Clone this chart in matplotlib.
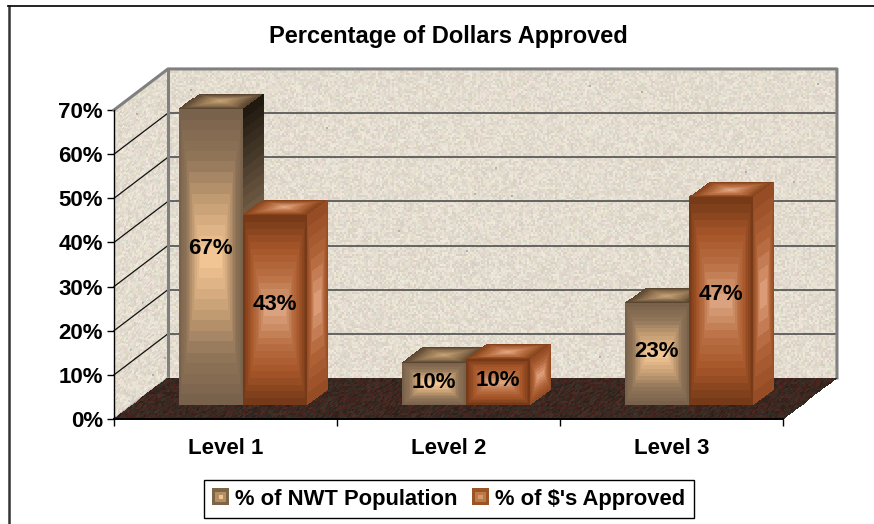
import numpy as np
import matplotlib
matplotlib.use('Agg')
import matplotlib.pyplot as plt
from matplotlib.legend_handler import HandlerBase
from matplotlib.patches import Rectangle, Patch

plt.rcParams['font.family'] = ['Liberation Sans', 'DejaVu Sans']
plt.rcParams['font.weight'] = 'bold'

#------------------------------------------------
# values
#------------------------------------------------
title      = 'Percentage of Dollars Approved'
categories = ['Level 1', 'Level 2', 'Level 3']
pop_vals   = [67, 9.5, 23]
appr_vals  = [43, 10.3, 47]
pop_name   = '% of NWT Population'
appr_name  = "% of $'s Approved"
yticks     = [0, 10, 20, 30, 40, 50, 60, 70]

# depth of the chart box and of the bars, in data units
box_dx, box_dy   = 0.242, 9.3
base_dx, base_dy = 0.078, 3.2
bar_dx, bar_dy   = 0.094, 3.5
bar_w            = 0.287

W, H = 874., 524.
fig = plt.figure(figsize=(8.74, 5.24), dpi=100, facecolor='white')
ax  = fig.add_axes([114/W, 1-419/H, (783-114)/W, (419-110)/H])
ax.set_xlim(0, 3)
ax.set_ylim(0, 70)
ax.patch.set_alpha(0)
ax.autoscale(False)


def noise(ny, nx, seed):
    # cheap stone grain, only a texture and not chart data
    jj, ii = np.mgrid[0:ny, 0:nx]
    v = np.sin(ii*12.9898 + jj*78.233 + seed*37.719)*43758.5453
    return v - np.floor(v)


def face(p0, pu, pv, rgb, z=2):
    # paint an rgb array on the parallelogram p0, p0+pu, p0+pv
    ny, nx = rgb.shape[:2]
    u, v = np.meshgrid(np.linspace(0, 1, nx+1), np.linspace(0, 1, ny+1))
    X = p0[0] + u*pu[0] + v*pv[0]
    Y = p0[1] + u*pu[1] + v*pv[1]
    ax.pcolormesh(X, Y, rgb/255., shading='flat', clip_on=False, zorder=z,
                  antialiased=False, edgecolors='none')


def stone(ny, nx):
    n0, n1, n2, n3 = noise(ny, nx, 7), noise(ny, nx, 1), noise(ny, nx, 2), noise(ny, nx, 3)
    rgb = np.zeros((ny, nx, 3))
    rgb[..., 0] = 210 + 24*n0 + 10*n1
    rgb[..., 1] = 203 + 24*n0 + 10*n2
    rgb[..., 2] = 190 + 24*n0 + 10*n3
    rgb[noise(ny, nx, 4) > 0.9993] = (178, 176, 160)
    return rgb


def soil(ny, nx):
    n1, n2 = noise(ny, nx, 5), noise(ny, nx, 6)
    rgb = np.zeros((ny, nx, 3))
    rgb[..., 0] = 42 + 36*n1
    rgb[..., 1] = 30 + 20*n2
    rgb[..., 2] = 24 + 18*n2
    return rgb


def box_shade(ny, nx, stops, levels=14, k=1.4):
    # stepped gradient, dark at the edges and light in the centre
    u, v = np.meshgrid((np.arange(nx)+0.5)/nx, (np.arange(ny)+0.5)/ny)
    t = np.minimum(k*(1-np.abs(2*u-1)), 1-np.abs(2*v-1))
    t = np.floor(np.clip(t, 0, 1)*levels)/(levels-1)
    t = np.clip(t, 0, 1)
    pos = np.linspace(0, 1, len(stops))
    stops = np.array(stops, dtype=float)
    return np.stack([np.interp(t, pos, stops[:, c]) for c in range(3)], axis=-1)


def col_shade(ny, nx, bottom, top, start=0., levels=12):
    v = (np.arange(ny)+0.5)/ny
    t = np.clip((v-start)/(1-start), 0, 1)
    t = np.floor(t*levels)/(levels-1)
    rgb = np.zeros((ny, nx, 3))
    for c in range(3):
        rgb[:, :, c] = (bottom[c] + (top[c]-bottom[c])*t)[:, None]
    return rgb


def bar(x0, val, front, top, side):
    y0 = base_dy
    y1 = base_dy + val
    ny = max(int(val*4.4), 8)
    # top and side first, the front goes over them
    face((x0, y1), (bar_w, 0), (bar_dx, bar_dy), box_shade(16, 64, top, k=1.0), z=4)
    face((x0+bar_w, y0), (bar_dx, bar_dy), (0, val), side(ny), z=4)
    face((x0, y0), (bar_w, 0), (0, val), box_shade(ny, 64, front), z=4)
    ax.text(x0+bar_w/2, y0+val/2+0.03*val, '%.0f%%' % val, ha='center', va='center',
            fontsize=16, fontweight='bold', color='black', zorder=6)


tan_front = [(120, 98, 75), (145, 118, 88), (200, 160, 118), (242, 197, 148)]
tan_top   = [(90, 70, 48), (150, 120, 85), (195, 160, 115)]
org_front = [(118, 58, 24), (165, 85, 40), (185, 112, 68), (218, 162, 126)]
org_top   = [(135, 68, 28), (185, 110, 65), (222, 165, 130)]
org_side  = [(150, 76, 36), (178, 100, 56), (218, 155, 118)]


def tan_side(ny):
    if ny < 150:
        return col_shade(ny, 21, (120, 98, 75), (75, 60, 42))
    return col_shade(ny, 21, (118, 96, 72), (32, 25, 16), start=0.6)


def org_side_f(ny):
    return box_shade(ny, 21, org_side, levels=8, k=1.3)


#------------------------------------------------
# walls and floor
#------------------------------------------------
face((box_dx, box_dy), (3, 0), (0, 70), stone(155, 335), z=1)
face((0, 0), (box_dx, box_dy), (0, 70), stone(155, 27), z=1)
face((0, 0), (3, 0), (box_dx, box_dy), soil(20, 375), z=2)

for v in yticks[1:-1]:
    ax.plot([box_dx, 3+box_dx], [v+box_dy, v+box_dy], color='#5a5a5a', lw=1.3,
            clip_on=False, zorder=1.5)
for v in yticks[1:]:
    ax.plot([0, box_dx], [v, v+box_dy], color='#111111', lw=0.9,
            clip_on=False, zorder=1.5)

# grey edges of the box
edge = dict(color='#808080', lw=2.2, clip_on=False, zorder=1.8, solid_capstyle='projecting')
ax.plot([0, box_dx, 3+box_dx, 3+box_dx], [70, 70+box_dy, 70+box_dy, box_dy], **edge)
ax.plot([box_dx, box_dx], [box_dy, 70+box_dy], **edge)
ax.plot([0, box_dx], [0, box_dy], color='#a0a0a0', lw=1.5, clip_on=False, zorder=1.8)

#------------------------------------------------
# bars
#------------------------------------------------
for i in range(len(categories)):
    mid = i + 0.5 + base_dx
    bar(mid-bar_w, pop_vals[i], tan_front, tan_top, tan_side)
    bar(mid, appr_vals[i], org_front, org_top, org_side_f)

#------------------------------------------------
# axes
#------------------------------------------------
for s in ['top', 'right']:
    ax.spines[s].set_visible(False)
ax.spines['left'].set_zorder(7)
ax.spines['bottom'].set_zorder(7)
ax.spines['left'].set_linewidth(1.0)
ax.spines['bottom'].set_linewidth(1.4)
ax.set_yticks(yticks)
ax.set_yticklabels(['%d%%' % v for v in yticks], fontsize=16, fontweight='bold')
ax.set_xticks(range(len(categories)+1))
ax.set_xticklabels([])
ax.set_xticks(np.arange(len(categories))+0.5, minor=True)
ax.set_xticklabels(categories, minor=True, fontsize=16, fontweight='bold')
ax.tick_params(axis='x', which='major', length=5, width=1)
ax.tick_params(axis='x', which='minor', length=0, pad=14)
ax.tick_params(axis='y', which='major', length=5, width=1, pad=3)

fig.text(448/W, 1-36/H, title, ha='center', va='center', fontsize=17, fontweight='bold')

# outer chart frame, only top and left are in the picture
fig.add_artist(plt.Line2D([8.5/W, 8.5/W], [0, 1-6/H], color='#333333', lw=1.8))
fig.add_artist(plt.Line2D([8/W, 1], [1-6/H, 1-6/H], color='#111111', lw=1.3))


class SwatchHandler(HandlerBase):
    def create_artists(self, legend, orig, xd, yd, width, height, fontsize, trans):
        s = 12.
        x = (width-s)/2 - xd
        y = (height-s)/2 - yd
        cols = orig.cols
        out = []
        for k, c in enumerate(cols):
            d = k*2.2
            out.append(Rectangle((x+d, y+d), s-2*d, s-2*d, facecolor=c, edgecolor='none',
                                 transform=trans))
        return out


h1 = Patch(label=pop_name)
h1.cols = ['#7d6548', '#b58e63', '#f3c48f']
h2 = Patch(label=appr_name)
h2.cols = ['#9a5426', '#bd7a45', '#d39a6c']
leg = fig.legend(handles=[h1, h2], handler_map={Patch: SwatchHandler()}, ncol=2,
                 loc='center', bbox_to_anchor=(449/W, 1-499/H), frameon=True,
                 fancybox=False, edgecolor='black', framealpha=1, fontsize=15.8,
                 handlelength=0.7, handletextpad=0.3, columnspacing=0.7,
                 borderpad=0.4, borderaxespad=0)
leg.get_frame().set_linewidth(1.0)

fig.savefig('out.png', dpi=100, facecolor='white')
